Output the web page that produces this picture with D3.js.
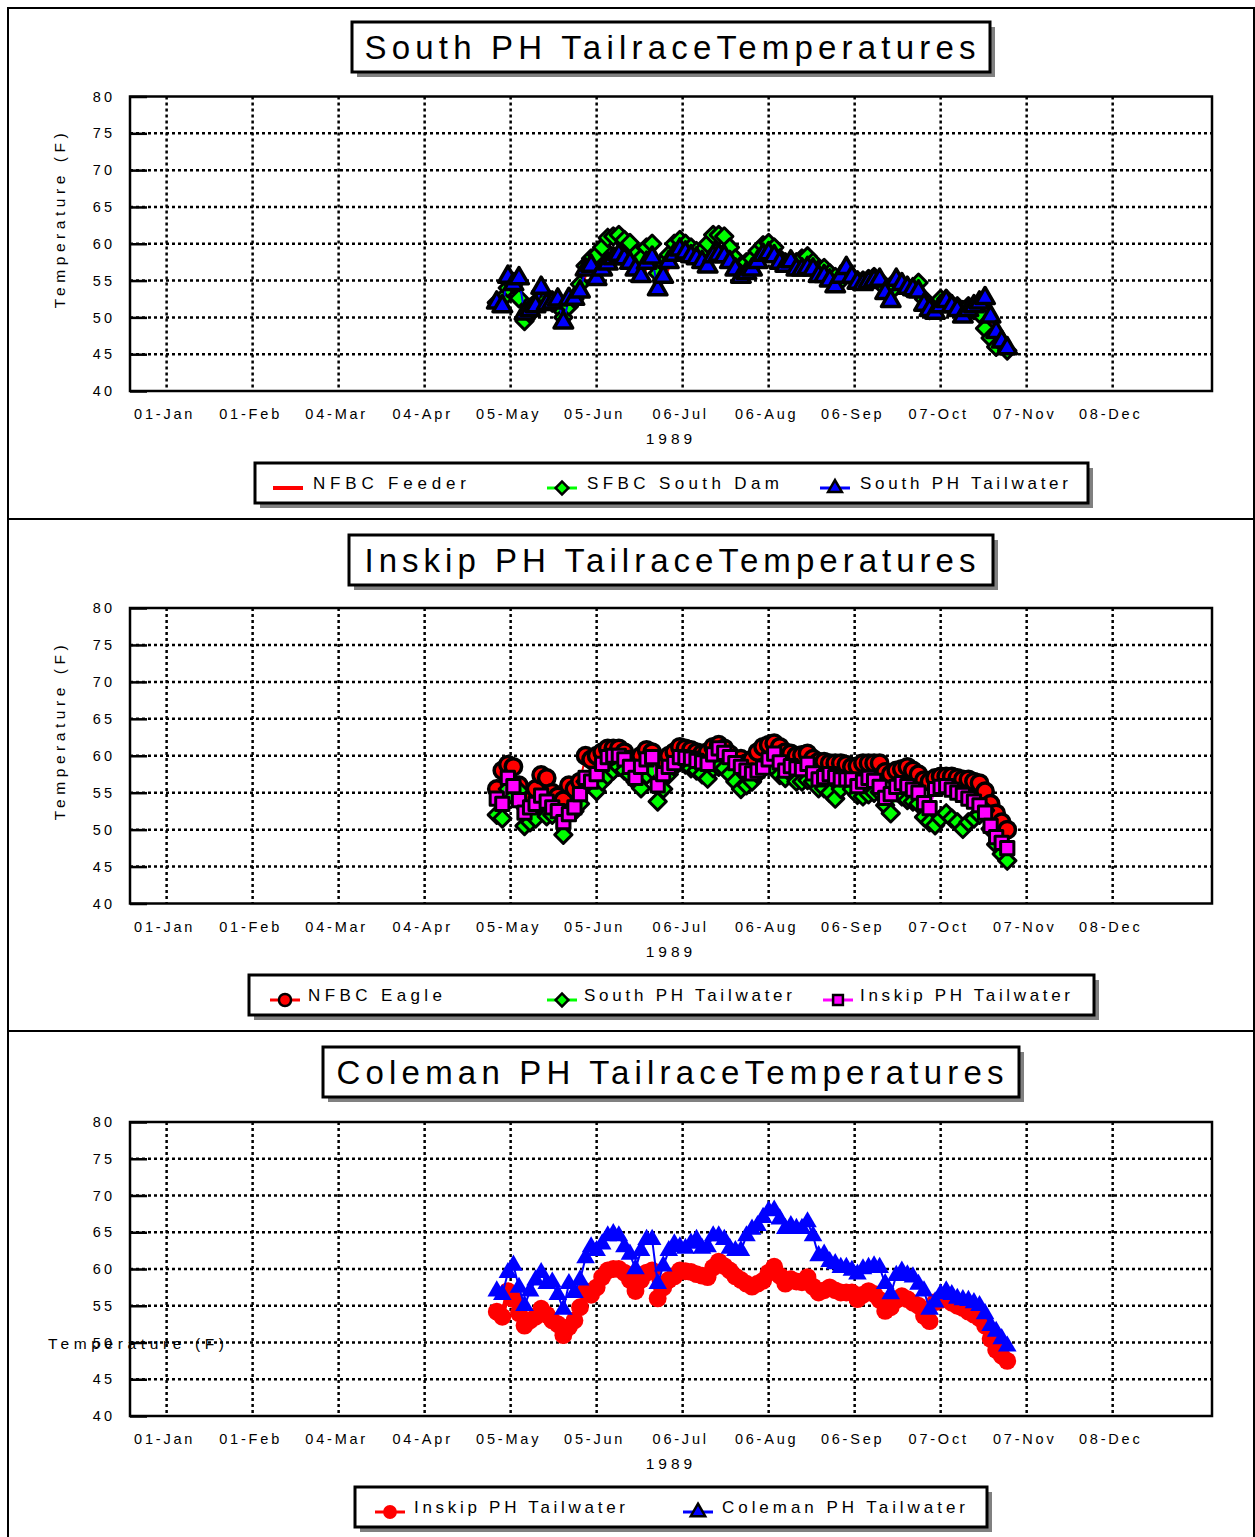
<!DOCTYPE html>
<html>
<head>
<meta charset="utf-8">
<script src="https://cdn.jsdelivr.net/npm/d3@7"></script>
<style>
  body { margin: 0; background: #fff; }
  text { font-family: "Liberation Sans", Arial, sans-serif; fill: #000; }
</style>
</head>
<body>
<div id="chart"></div>
<script>
// Readings start on day-of-year 119 (01-Jan = 0) and are spaced every 2 days
const firstDay = 119;
const stepDays = 2;

// Temperatures (F)
const nfbcFeeder = [
  51.5, 51.0, 54.8, 54.0, 54.5, 50.0, 50.6, 51.0, 53.2, 51.3,
  51.5, 51.8, 49.0, 51.8, 52.0, 53.0, 55.8, 56.3, 54.7, 55.8,
  56.6, 57.2, 57.7, 57.4, 56.8, 55.9, 55.0, 56.8, 57.4, 53.3,
  55.0, 56.8, 57.8, 58.5, 58.2, 57.7, 57.3, 56.9, 56.3, 57.6,
  57.8, 57.7, 56.9, 55.9, 55.0, 55.4, 56.0, 56.9, 57.8, 58.0,
  57.7, 56.8, 56.4, 56.9, 55.9, 55.9, 56.1, 55.9, 55.0, 55.0,
  54.4, 53.7, 54.9, 56.0, 54.9, 54.1, 53.9, 54.2, 54.4, 54.5,
  52.8, 51.7, 54.4, 53.9, 53.4, 53.2, 52.9, 51.2, 50.5, 50.1,
  50.9, 51.6, 51.0, 50.5, 49.6, 50.4, 50.9, 51.4, 52.0, 49.6,
  47.6, 46.3, 45.4
];
const sfbcSouthDam = [
  52.0, 52.5, 54.0, 54.5, 52.6, 49.5, 50.5, 52.0, 53.5, 52.5,
  52.0, 51.5, 50.0, 51.5, 52.5, 54.5, 57.0, 58.0, 58.5, 59.5,
  60.8, 61.0, 61.2, 60.5, 60.1, 58.5, 58.0, 59.5, 60.0, 56.0,
  57.4, 58.5, 60.0, 60.5, 60.0, 59.5, 59.0, 59.0, 60.0, 61.2,
  61.2, 61.0, 59.5, 58.0, 57.0, 57.5, 58.0, 59.0, 59.8, 60.1,
  59.5, 58.0, 57.5, 57.5, 57.5, 58.0, 58.3, 57.5, 56.5, 56.7,
  56.0, 55.5, 55.0, 56.0, 55.5, 55.0, 55.0, 55.2, 55.5, 55.0,
  54.0, 53.5, 55.0, 54.5, 54.0, 54.0, 54.7, 52.5, 51.0, 51.5,
  52.5, 52.5, 51.5, 51.5, 51.0, 51.5, 51.0, 50.5, 48.5, 47.2,
  46.0, 46.5, 45.5
];
const southPHTailwater = [
  52.0, 51.5, 55.5, 54.5, 55.3, 50.5, 51.0, 51.5, 54.0, 51.8,
  52.0, 52.4, 49.3, 52.5, 52.5, 53.5, 56.5, 57.0, 55.2, 56.5,
  57.3, 58.0, 58.5, 58.0, 57.4, 56.5, 55.6, 57.4, 58.1, 53.8,
  55.5, 57.5, 58.5, 59.2, 58.8, 58.3, 58.0, 57.5, 56.9, 58.3,
  58.5, 58.3, 57.5, 56.5, 55.5, 56.0, 56.5, 57.5, 58.5, 58.7,
  58.3, 57.4, 57.0, 57.6, 56.5, 56.5, 56.7, 56.5, 55.6, 55.6,
  55.0, 54.2, 55.5, 56.7, 55.5, 54.7, 54.5, 54.8, 55.0, 55.1,
  53.3, 52.2, 55.1, 54.5, 54.0, 53.8, 53.5, 51.7, 51.0, 50.6,
  51.5, 52.2, 51.5, 51.0, 50.1, 51.0, 51.5, 52.0, 52.6, 50.1,
  48.0, 46.7, 45.8
];
const nfbcEagle = [
  55.5, 58.0, 58.8, 58.5, 56.0, 53.5, 54.5, 55.5, 57.4, 57.0,
  55.0, 54.5, 54.0, 56.0, 55.5, 56.5, 60.0, 59.5, 60.0, 60.5,
  61.0, 61.0, 61.0, 60.5, 59.5, 58.5, 60.0, 60.8, 60.5, 57.5,
  59.5, 60.0, 60.5, 61.2, 61.0, 60.8, 60.5, 60.3, 60.5, 61.2,
  61.5, 61.0, 60.2, 59.5, 59.6, 59.0, 59.5, 60.5, 61.2, 61.5,
  61.7, 61.2, 60.5, 60.3, 60.0, 60.1, 60.3, 59.6, 59.2, 59.2,
  59.0, 59.0, 59.0, 58.8, 58.5, 58.6, 59.0, 59.0, 59.0, 59.0,
  57.8, 57.5, 58.0, 58.2, 58.5, 58.0, 57.5, 56.7, 56.5, 57.0,
  57.2, 57.2, 57.2, 57.0, 56.8, 56.8, 56.5, 56.3, 55.2, 53.5,
  52.2, 51.0, 50.0
];
const inskipPHTailwater = [
  54.2, 53.5, 57.0, 55.9, 54.0, 52.3, 53.0, 53.5, 54.6, 53.8,
  53.0, 52.5, 51.0, 52.1, 53.0, 54.8, 57.0, 56.5, 57.5, 58.9,
  59.8, 60.0, 60.0, 59.5, 58.5, 57.0, 58.5, 59.5, 59.8, 56.0,
  57.5, 58.5, 59.0, 59.8, 59.7, 59.6, 59.3, 59.1, 58.9, 60.2,
  61.0, 60.4, 59.8, 59.0, 58.5, 58.0, 57.6, 58.0, 58.4, 59.5,
  60.3, 59.1, 58.0, 58.6, 58.3, 58.2, 58.9, 57.6, 56.8, 57.1,
  57.5, 57.1, 56.8, 56.8, 56.8, 55.9, 56.5, 57.0, 56.6, 55.8,
  54.3, 54.8, 55.8, 56.3, 55.9, 55.4, 55.0, 53.6, 52.9, 55.5,
  55.8, 55.9, 55.4, 55.0, 54.7, 54.2, 53.8, 53.3, 52.3, 50.5,
  49.0, 48.2, 47.5
];
const colemanPHTailwater = [
  57.0, 56.5, 59.5, 60.5, 57.5, 55.0, 57.0, 58.5, 59.5, 58.0,
  58.2, 56.5, 54.5, 58.0, 56.8, 58.5, 61.5, 63.0, 62.5, 63.4,
  64.5, 64.8, 64.5, 63.0, 62.0, 60.0, 62.5, 64.0, 64.0, 58.0,
  60.4, 62.5, 63.4, 63.0, 62.8, 63.5, 64.0, 62.8, 63.0, 64.5,
  64.5, 64.0, 62.8, 62.5, 62.5, 64.5, 65.4, 65.9, 67.0, 67.9,
  68.0, 66.8, 65.5, 65.9, 65.5, 65.5, 66.4, 64.5, 61.8, 62.0,
  61.0, 60.7, 60.2, 60.2, 59.8, 59.3, 60.0, 60.2, 60.4, 60.2,
  58.0, 56.6, 59.1, 59.7, 59.2, 58.9, 57.9, 57.0, 54.5, 55.5,
  56.6, 57.0, 56.5, 56.0, 55.8, 55.7, 55.4, 55.0, 53.9, 52.3,
  51.5, 50.5, 49.5
];

// Axis ticks: every 31 days from 01-Jan-1989
const tickDays = [0, 31, 62, 93, 124, 155, 186, 217, 248, 279, 310, 341];
const tickLabels = ["01-Jan", "01-Feb", "04-Mar", "04-Apr", "05-May", "05-Jun",
                    "06-Jul", "06-Aug", "06-Sep", "07-Oct", "07-Nov", "08-Dec"];
const tempTicks = [40, 45, 50, 55, 60, 65, 70, 75, 80];
const yearLabel = "1989";

const width = 1255;
const height = 1537;

const svg = d3.select("#chart").append("svg")
    .attr("width", width)
    .attr("height", height);

// shared time axis (days since 01-Jan)
const x = d3.scaleLinear().domain([-13.2, 376.8]).range([130, 1212]);

const red = "#ff0000", green = "#00ff00", blue = "#0000ff", magenta = "#ff00ff";

// marker styles
const triOutlined = { type: d3.symbolTriangle, size: 150, fill: blue, stroke: "#000", sw: 3.5 };
const diamond = { type: d3.symbolSquare, size: 150, fill: green, stroke: "#000", sw: 3, rotate: 45 };
const circOutlined = { type: d3.symbolCircle, size: 210, fill: red, stroke: "#000", sw: 3.5 };
const square = { type: d3.symbolSquare, size: 175, fill: magenta, stroke: "#000", sw: 3 };
const circPlain = { type: d3.symbolCircle, size: 250, fill: red, stroke: "none", sw: 0 };
const triPlain = { type: d3.symbolTriangle, size: 150, fill: blue, stroke: "none", sw: 0 };

const panels = [
  {
    title: "South PH TailraceTemperatures", top: 96.5, bottom: 391,
    titleBox: [352, 22, 638, 50], titleWidth: 611,
    legendBox: [255, 463, 833, 40], yLabelVertical: true,
    series: [
      { name: "NFBC Feeder", values: nfbcFeeder, color: red, line: 3, marker: null, sx: 288, tx: 313, tw: 153 },
      { name: "SFBC South Dam", values: sfbcSouthDam, color: green, line: 2, marker: diamond, sx: 562, tx: 587, tw: 192 },
      { name: "South PH Tailwater", values: southPHTailwater, color: blue, line: 2, marker: triOutlined, sx: 835, tx: 860, tw: 208 }
    ]
  },
  {
    title: "Inskip PH TailraceTemperatures", top: 608, bottom: 903.5,
    titleBox: [349, 535, 644, 50], titleWidth: 611,
    legendBox: [249, 975, 845, 40], yLabelVertical: true,
    series: [
      { name: "NFBC Eagle", values: nfbcEagle, color: red, line: 2, marker: circOutlined, sx: 285, tx: 308, tw: 134 },
      { name: "South PH Tailwater", values: southPHTailwater, color: green, line: 2, marker: diamond, sx: 562, tx: 584, tw: 208 },
      { name: "Inskip PH Tailwater", values: inskipPHTailwater, color: magenta, line: 2, marker: square, sx: 838, tx: 860, tw: 210 }
    ]
  },
  {
    title: "Coleman PH TailraceTemperatures", top: 1122, bottom: 1416,
    titleBox: [323, 1047, 696, 50], titleWidth: 667,
    legendBox: [355, 1487, 632, 40], yLabelVertical: false,
    series: [
      { name: "Inskip PH Tailwater", values: inskipPHTailwater, color: red, line: 5, marker: circPlain, legendMarker: { type: d3.symbolCircle, size: 150, fill: red, stroke: "none", sw: 0 }, sx: 390, tx: 414, tw: 211 },
      { name: "Coleman PH Tailwater", values: colemanPHTailwater, color: blue, line: 2, marker: triPlain, legendMarker: { type: d3.symbolTriangle, size: 90, fill: blue, stroke: "#000", sw: 2.5 }, sx: 698, tx: 722, tw: 243 }
    ]
  }
];

// outer frame and separators
svg.append("rect")
    .attr("x", 8).attr("y", 8)
    .attr("width", width - 9).attr("height", height)
    .attr("fill", "none").attr("stroke", "#000").attr("stroke-width", 2);
[519, 1031].forEach(yy => {
  svg.append("line")
      .attr("x1", 8).attr("x2", width).attr("y1", yy).attr("y2", yy)
      .attr("stroke", "#000").attr("stroke-width", 2);
});

function boxWithShadow(g, b) {
  g.append("rect")
      .attr("x", b[0] + 5).attr("y", b[1] + 5)
      .attr("width", b[2]).attr("height", b[3])
      .attr("fill", "#808080");
  g.append("rect")
      .attr("x", b[0]).attr("y", b[1])
      .attr("width", b[2]).attr("height", b[3])
      .attr("fill", "#fff").attr("stroke", "#000").attr("stroke-width", 3);
}

function markerPath(m, k = 1) {
  return d3.symbol().type(m.type).size(m.size * k)();
}

panels.forEach(p => {
  const g = svg.append("g");
  const y = d3.scaleLinear().domain([40, 80]).range([p.bottom, p.top]);

  // title
  boxWithShadow(g, p.titleBox);
  g.append("text")
      .attr("x", p.titleBox[0] + p.titleBox[2] / 2 - 1)
      .attr("y", p.titleBox[1] + 37)
      .attr("text-anchor", "middle")
      .attr("font-size", 33)
      .attr("textLength", p.titleWidth)
      .attr("lengthAdjust", "spacing")
      .text(p.title);

  // grid
  g.append("g").selectAll("line")
      .data(tempTicks.filter(t => t > 40 && t < 80))
      .enter().append("line")
      .attr("x1", x.range()[0]).attr("x2", x.range()[1])
      .attr("y1", d => y(d)).attr("y2", d => y(d))
      .attr("stroke", "#000").attr("stroke-width", 2.5)
      .attr("stroke-dasharray", "3,3");
  g.append("g").selectAll("line")
      .data(tickDays)
      .enter().append("line")
      .attr("x1", d => x(d)).attr("x2", d => x(d))
      .attr("y1", p.top).attr("y2", p.bottom)
      .attr("stroke", "#000").attr("stroke-width", 2.5)
      .attr("stroke-dasharray", "3,3");

  // inward tick marks on the temperature axis
  g.append("g")
      .attr("transform", `translate(${x.range()[0]},0)`)
      .call(d3.axisRight(y).tickValues(tempTicks).tickSize(17).tickFormat(""))
      .call(a => a.select(".domain").remove())
      .selectAll("line").attr("stroke-width", 2.5);

  // frame
  g.append("rect")
      .attr("x", x.range()[0]).attr("y", p.top)
      .attr("width", x.range()[1] - x.range()[0]).attr("height", p.bottom - p.top)
      .attr("fill", "none").attr("stroke", "#000").attr("stroke-width", 2.5);

  // temperature tick labels
  const ya = g.append("g")
      .attr("transform", `translate(${x.range()[0]},0)`)
      .call(d3.axisLeft(y).tickValues(tempTicks).tickSize(0).tickPadding(15));
  ya.select(".domain").remove();
  ya.selectAll("text")
      .attr("font-family", null)
      .attr("font-size", 14.5)
      .attr("letter-spacing", 3);

  // date tick labels
  const xa = g.append("g")
      .attr("transform", `translate(0,${p.bottom})`)
      .call(d3.axisBottom(x).tickValues(tickDays).tickSize(0)
        .tickFormat((d, i) => tickLabels[i]));
  xa.select(".domain").remove();
  xa.selectAll("text")
      .attr("y", 28).attr("dy", null).attr("dx", -2.5)
      .attr("font-size", 14.5)
      .attr("letter-spacing", 2.8);

  g.append("text")
      .attr("x", 671).attr("y", p.bottom + 53)
      .attr("text-anchor", "middle")
      .attr("font-size", 15.5)
      .attr("letter-spacing", 4)
      .text(yearLabel);

  // temperature axis title
  if (p.yLabelVertical) {
    g.append("text")
        .attr("transform", `translate(65,${(p.top + p.bottom) / 2 - 23}) rotate(-90)`)
        .attr("text-anchor", "middle")
        .attr("font-size", 15.5)
        .attr("textLength", 175)
        .attr("lengthAdjust", "spacing")
        .text("Temperature (F)");
  } else {
    g.append("text")
        .attr("x", 48).attr("y", p.top + 227)
        .attr("font-size", 15.5)
        .attr("textLength", 176)
        .attr("lengthAdjust", "spacing")
        .text("Temperature (F)");
  }

  // series
  p.series.forEach(s => {
    const pts = s.values.map((v, i) => [firstDay + stepDays * i, v]);
    g.append("path")
        .datum(pts)
        .attr("fill", "none")
        .attr("stroke", s.color)
        .attr("stroke-width", s.line)
        .attr("stroke-linejoin", "round")
        .attr("d", d3.line().x(d => x(d[0])).y(d => y(d[1])));
    if (s.marker) {
      const m = s.marker;
      g.append("g").selectAll("path")
          .data(pts)
          .enter().append("path")
          .attr("d", markerPath(m))
          .attr("transform", d => `translate(${x(d[0])},${y(d[1])})` + (m.rotate ? ` rotate(${m.rotate})` : ""))
          .attr("fill", m.fill)
          .attr("stroke", m.stroke)
          .attr("stroke-width", m.sw)
          .attr("stroke-linejoin", "round");
    }
  });

  // legend
  boxWithShadow(g, p.legendBox);
  const ly = p.legendBox[1] + p.legendBox[3] / 2 + 5;
  p.series.forEach(s => {
    g.append("line")
        .attr("x1", s.sx - 15).attr("x2", s.sx + 15)
        .attr("y1", ly).attr("y2", ly)
        .attr("stroke", s.color)
        .attr("stroke-width", s.marker ? 3 : 4);
    const m = s.legendMarker || s.marker;
    if (m) {
      g.append("path")
          .attr("d", markerPath(m, s.legendMarker ? 1 : 0.55))
          .attr("transform", `translate(${s.sx},${ly})` + (m.rotate ? ` rotate(${m.rotate})` : ""))
          .attr("fill", m.fill)
          .attr("stroke", m.stroke)
          .attr("stroke-width", 2.5);
    }
    g.append("text")
        .attr("x", s.tx).attr("y", p.legendBox[1] + 26)
        .attr("font-size", 17)
        .attr("textLength", s.tw)
        .attr("lengthAdjust", "spacing")
        .text(s.name);
  });
});
</script>
</body>
</html>
